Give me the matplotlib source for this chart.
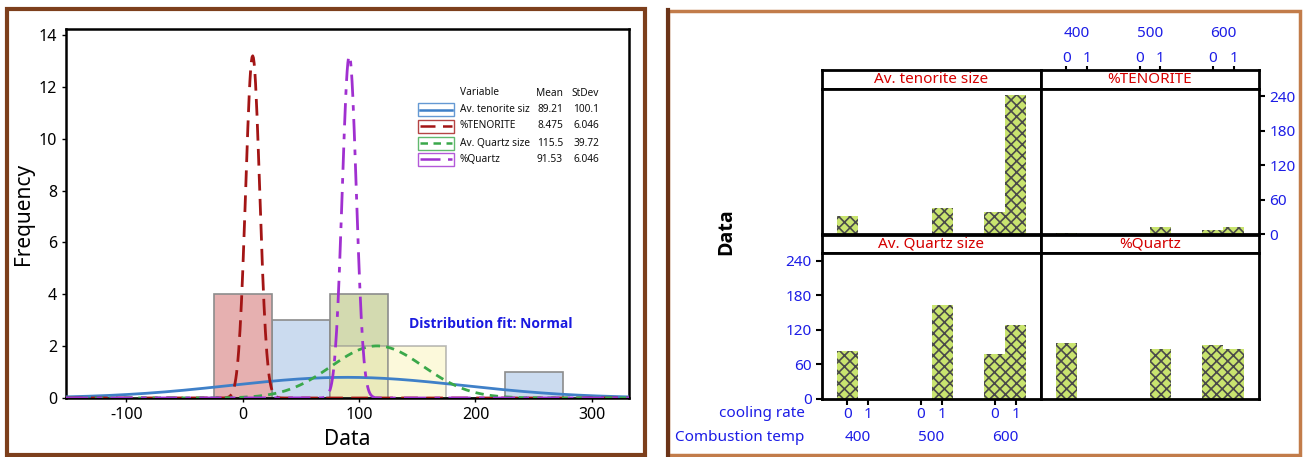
import numpy as np
import matplotlib.pyplot as plt
from matplotlib.patches import Rectangle
from matplotlib.lines import Line2D

plt.rcParams['font.family'] = ['Noto Sans', 'DejaVu Sans']
plt.rcParams['hatch.linewidth'] = 1.2
plt.rcParams['axes.unicode_minus'] = False

# ---- data ----
variables = ['Av. tenorite size', '%TENORITE', 'Av. Quartz size', '%Quartz']
legend_names = ['Av. tenorite siz', '%TENORITE', 'Av. Quartz size', '%Quartz']
means = [89.21, 8.475, 115.5, 91.53]
stdevs = [100.1, 6.046, 39.72, 6.046]
mean_txt = ['89.21', '8.475', '115.5', '91.53']
sd_txt = ['100.1', '6.046', '39.72', '6.046']

combustion_temp = [400, 400, 500, 500, 600, 600]
cooling_rate = [0, 1, 0, 1, 0, 1]
tenorite_size = [31, np.nan, np.nan, 46, 38, 242]
pct_tenorite = [2.5, np.nan, np.nan, 13, 7, 13]
quartz_size = [84, np.nan, np.nan, 163.5, 78, 128]
pct_quartz = [97.5, np.nan, np.nan, 87, 93, 87]
series = [tenorite_size, pct_tenorite, quartz_size, pct_quartz]

temps = [400, 500, 600]
bin_edges = np.arange(-25, 276, 50)

# styles
line_cols = ['#3f80c8', '#a31515', '#3aa84a', '#a030d0']
line_styles = ['-', (0, (6, 3)), (0, (3, 2.2)), (0, (8, 3, 2, 3))]
fill_cols = ['#cbdbef', '#e6b0b0', '#fbf6c4', '#d3dab0']
fill_alpha = [1.0, 1.0, 0.6, 1.0]
draw_order = [0, 1, 3, 2]
blue = '#1c1ce6'
red = '#d40000'
bold_font = ['Open Sans', 'DejaVu Sans']

W, H = 1305, 457
fig = plt.figure(figsize=(W / 100, H / 100), dpi=100)


def px_axes(x0, y0, x1, y1):
    return fig.add_axes([x0 / W, 1 - y1 / H, (x1 - x0) / W, (y1 - y0) / H])


def fx(px):
    return px / W


def fy(py):
    return 1 - py / H


# ---- brown frames around the two pictures ----
fig.add_artist(Rectangle((fx(7), fy(455)), fx(638), 446 / H, transform=fig.transFigure,
                         fill=False, edgecolor='#7d3f1c', lw=3))
fig.add_artist(Rectangle((fx(668), fy(455)), fx(632), 444 / H, transform=fig.transFigure,
                         fill=False, edgecolor='#c27c4a', lw=2.5))
fig.add_artist(Line2D([fx(668), fx(668)], [fy(456), fy(10)], transform=fig.transFigure,
                      color='#6b3418', lw=3))

# ================= left: histogram with normal fits =================
ax = px_axes(66, 29, 629, 398)
for i in draw_order:
    vals = [v for v in series[i] if not np.isnan(v)]
    ax.hist(vals, bins=bin_edges, color=fill_cols[i], alpha=fill_alpha[i],
            edgecolor='#8c8c8c', linewidth=1.2, zorder=1)

xs = np.linspace(-152, 332, 800)
for i in range(4):
    n = np.sum(~np.isnan(series[i]))
    fit = n * 50 * np.exp(-0.5 * ((xs - means[i]) / stdevs[i]) ** 2) / (stdevs[i] * np.sqrt(2 * np.pi))
    ax.plot(xs, fit, color=line_cols[i], linestyle=line_styles[i], lw=2, zorder=3)

ax.set_xlim(-152, 332)
ax.set_ylim(0, 14.23)
ax.set_xticks([-100, 0, 100, 200, 300])
ax.set_yticks(range(0, 15, 2))
ax.tick_params(labelsize=11.5, length=3, width=1, direction='out')
for s in ax.spines.values():
    s.set_linewidth(1.8)
ax.set_xlabel('Data', fontsize=15, labelpad=4)
ax.set_ylabel('Frequency', fontsize=15, labelpad=3)

fig.text(fx(409), fy(324), 'Distribution fit: Normal', color='#1a1ae0', fontsize=10,
         fontweight='bold', family=bold_font, va='center', ha='left')

# Minitab-like legend table
fs_leg = 7.3
fig.text(fx(460), fy(92), 'Variable', fontsize=fs_leg, va='center', color='#111111')
fig.text(fx(563), fy(94), 'Mean', fontsize=fs_leg, va='center', ha='right', color='#111111')
fig.text(fx(599), fy(94), 'StDev', fontsize=fs_leg, va='center', ha='right', color='#111111')
row_y = [110, 126, 143, 159]
for i in range(4):
    y = row_y[i]
    fig.add_artist(Rectangle((fx(418), fy(y + 6.5)), 36 / W, 13 / H, transform=fig.transFigure,
                             fill=False, edgecolor=line_cols[i], lw=1, alpha=0.8))
    fig.add_artist(Line2D([fx(420), fx(452)], [fy(y), fy(y)], transform=fig.transFigure,
                          color=line_cols[i], linestyle=line_styles[i], lw=1.8))
    fig.text(fx(460), fy(y), legend_names[i], fontsize=fs_leg, va='center', color='#111111')
    fig.text(fx(563), fy(y), mean_txt[i], fontsize=fs_leg, va='center', ha='right', color='#111111')
    fig.text(fx(599), fy(y), sd_txt[i], fontsize=fs_leg, va='center', ha='right', color='#111111')

# ================= right: faceted bar chart =================
temp_idx = [temps.index(t) for t in combustion_temp]
positions = [ti * 3.5 + c for ti, c in zip(temp_idx, cooling_rate)]
group_centres = [ti * 3.5 + 0.5 for ti in range(len(temps))]

col_x = [(822, 1041), (1041, 1259)]
row_plot = [(89, 234), (253, 399)]
row_strip = [(70, 89), (235, 253)]
xlim = (-1.2, 9.2)
ylim = (0, 253)

strips = {}
for k in range(4):
    r, c = divmod(k, 2)
    x0, x1 = col_x[c]
    sax = px_axes(x0, row_strip[r][0], x1, row_strip[r][1])
    sax.set_xlim(*xlim)
    sax.set_yticks([])
    sax.set_xticks([])
    for s in sax.spines.values():
        s.set_linewidth(2)
    sax.text(0.5, 0.5, variables[k], transform=sax.transAxes, ha='center', va='center',
             color=red, fontsize=11)
    strips[k] = sax

    pax = px_axes(x0, row_plot[r][0], x1, row_plot[r][1])
    vals = series[k]
    pax.bar(positions, vals, width=1.0, color='#c9e46f', edgecolor='none', zorder=1)
    pax.bar(positions, vals, width=1.0, facecolor='none', edgecolor='#4a4a4a',
            hatch='xxx', lw=0, zorder=2)
    pax.set_xlim(*xlim)
    pax.set_ylim(*ylim)
    for s in pax.spines.values():
        s.set_linewidth(2)
    pax.set_xticks([])
    pax.set_yticks([])
    pax.tick_params(direction='out', length=4, width=1.5, labelcolor=blue, labelsize=11)

    if k == 1:
        pax.yaxis.tick_right()
        pax.set_yticks([0, 60, 120, 180, 240])
    if k == 2:
        pax.set_yticks([0, 60, 120, 180, 240])
        pax.set_xticks(positions)
        pax.set_xticklabels([str(c) for c in cooling_rate])
        pax.tick_params(axis='x', pad=2)
        for gc, t in zip(group_centres, temps):
            pax.text(gc, -0.265, str(t), transform=pax.get_xaxis_transform(), ha='center',
                     va='center', color=blue, fontsize=11)
        pax.text(-0.08, -0.1, 'cooling rate', transform=pax.transAxes, ha='right',
                 va='center', color=blue, fontsize=11)
        pax.text(-0.08, -0.265, 'Combustion temp', transform=pax.transAxes, ha='right',
                 va='center', color=blue, fontsize=11)

# top axis ticks on the %TENORITE strip
sax = strips[1]
sax.xaxis.tick_top()
sax.set_xticks(positions)
sax.set_xticklabels([str(c) for c in cooling_rate])
sax.tick_params(axis='x', direction='out', length=3, width=1.5, labelcolor=blue,
                labelsize=11, pad=0)
for gc, t in zip(group_centres, temps):
    sax.text(gc, 1 + 36 / 19, str(t), transform=sax.get_xaxis_transform(), ha='center',
             va='center', color=blue, fontsize=11)

fig.text(fx(726), fy(232), 'Data', rotation=90, fontsize=14, fontweight='bold',
         family=bold_font, ha='center', va='center')

fig.savefig('out.png', dpi=100)
